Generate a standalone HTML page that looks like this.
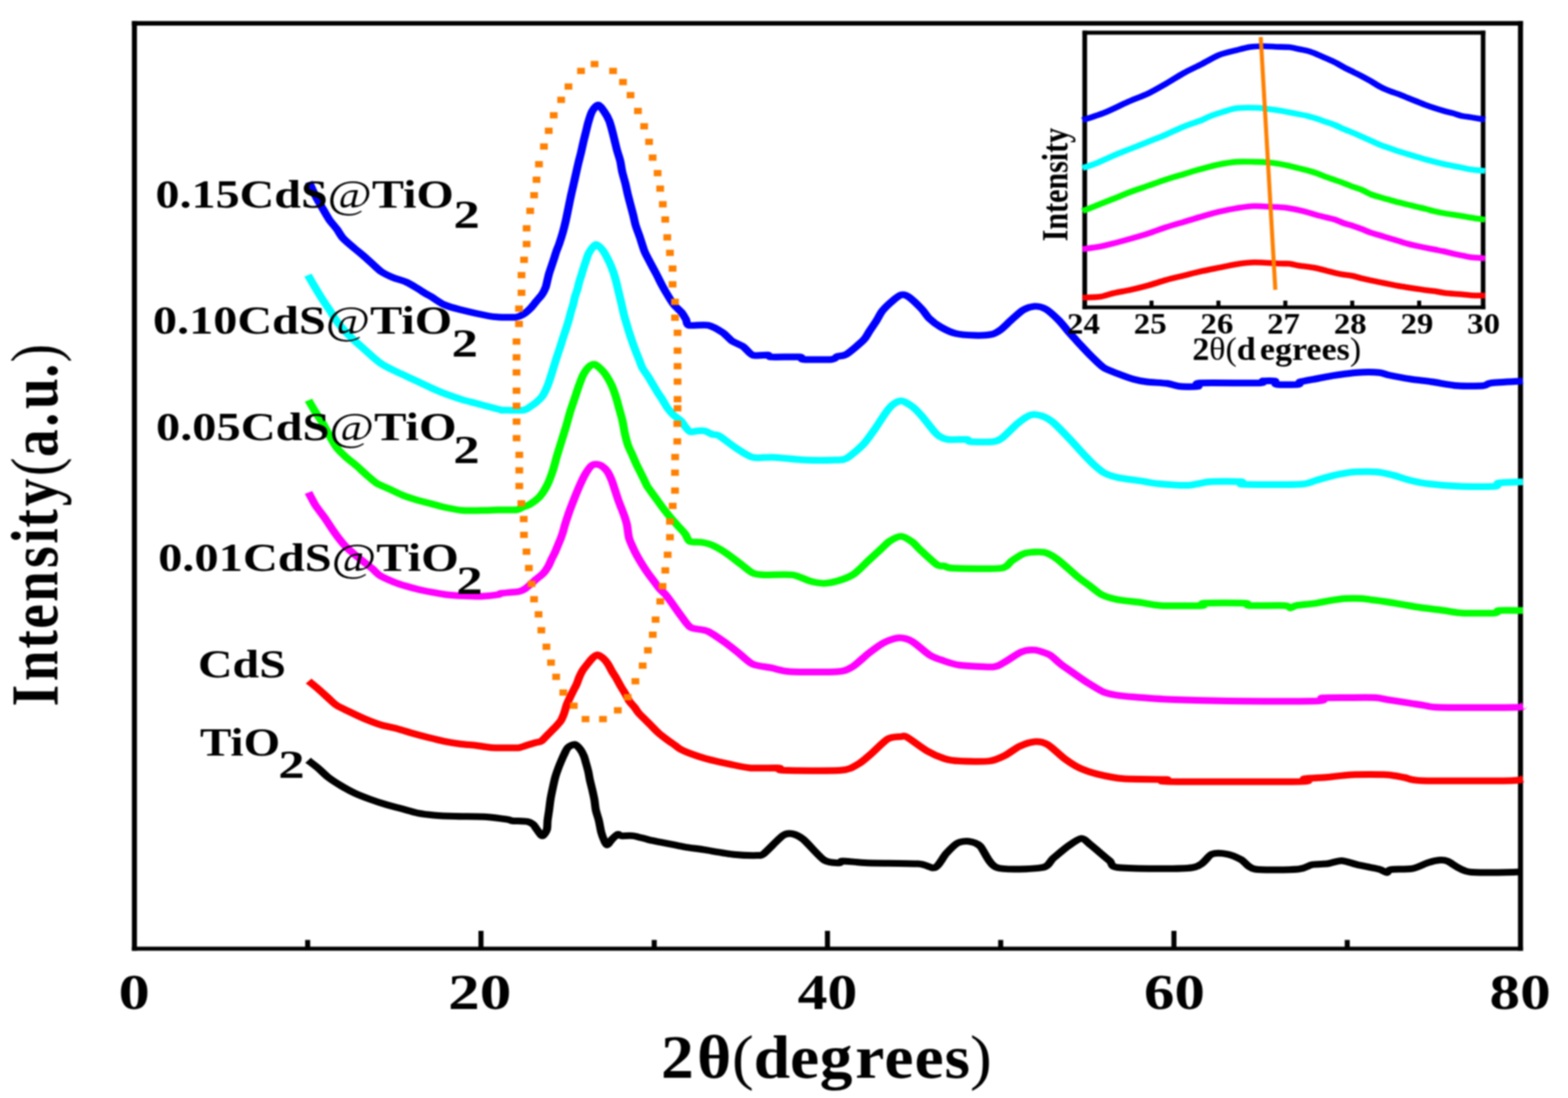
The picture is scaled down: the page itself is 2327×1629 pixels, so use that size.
<!DOCTYPE html>
<html><head><meta charset="utf-8"><title>XRD patterns</title>
<style>html,body{margin:0;padding:0;background:#fff;width:2327px;height:1629px;overflow:hidden}</style>
</head><body>
<svg width="2327" height="1629" viewBox="0 0 2327 1629" style="display:block;filter:blur(0.9px)">
<rect width="2327" height="1629" fill="#fff"/>
<g font-family='"Liberation Serif", "Times New Roman", serif' fill="#000">
<line x1="199.5" y1="31.2" x2="199.5" y2="1410.6" stroke="#000" stroke-width="7.5"/>
<line x1="2256.5" y1="31.2" x2="2256.5" y2="1410.6" stroke="#000" stroke-width="7.5"/>
<line x1="195.7" y1="34.6" x2="2260.2" y2="34.6" stroke="#000" stroke-width="6.6"/>
<line x1="195.7" y1="1407.5" x2="2260.2" y2="1407.5" stroke="#000" stroke-width="6.2"/>
<line x1="456.6" y1="1394.5" x2="456.6" y2="1407" stroke="#000" stroke-width="7.5"/>
<line x1="713.8" y1="1381" x2="713.8" y2="1407" stroke="#000" stroke-width="7.5"/>
<line x1="970.9" y1="1394.5" x2="970.9" y2="1407" stroke="#000" stroke-width="7.5"/>
<line x1="1228.0" y1="1381" x2="1228.0" y2="1407" stroke="#000" stroke-width="7.5"/>
<line x1="1485.1" y1="1394.5" x2="1485.1" y2="1407" stroke="#000" stroke-width="7.5"/>
<line x1="1742.2" y1="1381" x2="1742.2" y2="1407" stroke="#000" stroke-width="7.5"/>
<line x1="1999.4" y1="1394.5" x2="1999.4" y2="1407" stroke="#000" stroke-width="7.5"/>
<text x="0" y="0" text-anchor="middle" transform="translate(199.1,1497) scale(1.25,1)" font-size="74" font-weight="bold">0</text>
<text x="0" y="0" text-anchor="middle" transform="translate(711.9,1497) scale(1.268,1)" font-size="74" font-weight="bold">20</text>
<text x="0" y="0" text-anchor="middle" transform="translate(1228.0,1497) scale(1.197,1)" font-size="74" font-weight="bold">40</text>
<text x="0" y="0" text-anchor="middle" transform="translate(1742.9,1497) scale(1.22,1)" font-size="74" font-weight="bold">60</text>
<text x="0" y="0" text-anchor="middle" transform="translate(2255.9,1497) scale(1.226,1)" font-size="74" font-weight="bold">80</text>
<text transform="translate(0,1598.80) scale(1.0800,1)" font-size="90" ><tspan x="908.33" font-weight="bold">2</tspan><tspan x="957.97" font-weight="bold">θ</tspan><tspan x="1005.69" font-weight="normal">(</tspan><tspan x="1035.69" font-weight="bold">d</tspan><tspan x="1085.76" font-weight="bold">e</tspan><tspan x="1126.43" font-weight="bold">g</tspan><tspan x="1175.16" font-weight="bold">r</tspan><tspan x="1215.35" font-weight="bold">e</tspan><tspan x="1256.69" font-weight="bold">e</tspan><tspan x="1297.92" font-weight="bold">s</tspan><tspan x="1332.86" font-weight="normal">)</tspan></text>
<text transform="translate(84.60,0) scale(1.2160,1) rotate(-90)" font-size="82" ><tspan x="-1048.11" font-weight="bold">I</tspan><tspan x="-1010.63" font-weight="bold">n</tspan><tspan x="-962.23" font-weight="bold">t</tspan><tspan x="-932.69" font-weight="bold">e</tspan><tspan x="-893.03" font-weight="bold">n</tspan><tspan x="-842.40" font-weight="bold">s</tspan><tspan x="-806.49" font-weight="bold">i</tspan><tspan x="-782.78" font-weight="bold">t</tspan><tspan x="-750.90" font-weight="bold">y</tspan><tspan x="-706.28" font-weight="normal">(</tspan><tspan x="-677.95" font-weight="bold">a</tspan><tspan x="-632.90" font-weight="bold">.</tspan><tspan x="-606.77" font-weight="bold">u</tspan><tspan x="-560.15" font-weight="bold">.</tspan><tspan x="-537.87" font-weight="normal">)</tspan></text>
<path transform="scale(1.2,1)" d="M381.00,1128.00 C382.58,1129.47 389.52,1135.65 392.83,1139.00 C396.14,1142.35 402.00,1149.55 405.83,1153.10 C409.67,1156.65 417.23,1162.47 421.58,1165.60 C425.94,1168.73 433.63,1173.88 438.50,1176.60 C443.37,1179.32 452.85,1183.71 458.08,1186.00 C463.32,1188.29 472.52,1191.92 477.75,1193.80 C482.98,1195.68 492.11,1198.42 497.33,1200.10 C502.56,1201.78 511.69,1205.15 516.92,1206.40 C522.14,1207.65 530.40,1208.87 536.50,1209.50 C542.60,1210.13 553.96,1210.78 562.67,1211.10 C571.38,1211.42 593.12,1211.27 601.83,1211.90 C610.54,1212.53 623.80,1215.03 628.00,1215.80 C632.20,1216.57 630.13,1217.30 633.33,1217.70 C636.53,1218.10 648.51,1218.05 652.00,1218.80 C655.49,1219.55 657.88,1221.66 659.50,1223.30 C661.12,1224.94 662.68,1228.86 664.17,1231.10 C665.66,1233.34 669.06,1240.10 670.67,1240.10 C672.28,1240.10 675.38,1234.09 676.25,1231.10 C677.12,1228.11 676.79,1221.58 677.17,1217.70 C677.54,1213.82 678.58,1206.33 679.08,1202.00 C679.58,1197.67 680.29,1189.68 680.92,1185.20 C681.54,1180.72 683.01,1172.59 683.75,1168.40 C684.49,1164.21 685.63,1157.53 686.50,1153.80 C687.37,1150.07 689.25,1143.68 690.25,1140.40 C691.25,1137.12 693.00,1132.04 694.00,1129.20 C695.00,1126.36 696.63,1121.79 697.75,1119.10 C698.87,1116.41 700.67,1110.95 702.42,1109.00 C704.16,1107.05 708.84,1104.19 710.83,1104.50 C712.82,1104.81 715.84,1109.05 717.33,1111.30 C718.82,1113.55 721.00,1118.56 722.00,1121.40 C723.00,1124.24 724.09,1129.47 724.83,1132.60 C725.58,1135.73 726.96,1141.62 727.58,1144.90 C728.21,1148.18 728.88,1153.77 729.50,1157.20 C730.12,1160.63 731.51,1166.72 732.25,1170.60 C732.99,1174.48 734.46,1182.11 735.08,1186.30 C735.71,1190.49 736.17,1197.81 736.92,1202.00 C737.66,1206.19 739.79,1213.37 740.67,1217.70 C741.54,1222.03 742.63,1230.62 743.50,1234.50 C744.37,1238.38 746.18,1244.27 747.17,1246.80 C748.16,1249.33 749.67,1253.65 750.92,1253.50 C752.16,1253.35 754.76,1247.79 756.50,1245.70 C758.24,1243.61 762.38,1238.55 764.00,1237.80 C765.62,1237.05 766.09,1239.79 768.67,1240.10 C771.24,1240.41 778.87,1239.34 783.33,1240.10 C787.80,1240.86 796.76,1244.33 802.17,1245.80 C807.58,1247.27 818.11,1249.70 823.92,1251.10 C829.73,1252.50 839.54,1255.02 845.75,1256.30 C851.96,1257.58 862.24,1259.18 870.50,1260.70 C878.76,1262.22 898.69,1266.58 907.67,1267.70 C916.64,1268.82 932.88,1269.29 937.83,1269.10 C942.79,1268.91 940.80,1270.21 944.83,1266.30 C948.87,1262.39 963.44,1243.71 968.08,1239.80 C972.73,1235.89 976.27,1236.25 979.67,1237.00 C983.07,1237.75 988.32,1240.20 993.58,1245.40 C998.85,1250.60 1013.28,1271.36 1019.17,1276.00 C1025.06,1280.64 1034.65,1280.01 1037.75,1280.20 C1040.85,1280.39 1037.77,1277.40 1042.42,1277.40 C1047.06,1277.40 1060.19,1279.64 1072.58,1280.20 C1084.97,1280.76 1124.18,1280.67 1135.33,1281.60 C1146.49,1282.53 1151.61,1289.24 1156.25,1287.20 C1160.89,1285.16 1166.46,1271.14 1170.17,1266.30 C1173.88,1261.46 1180.37,1253.31 1184.08,1250.90 C1187.79,1248.49 1194.28,1247.64 1198.00,1248.20 C1201.72,1248.76 1207.36,1249.90 1212.00,1255.10 C1216.64,1260.30 1222.62,1282.92 1232.83,1287.20 C1243.04,1291.48 1279.28,1289.07 1288.58,1287.20 C1297.88,1285.33 1298.24,1277.48 1302.58,1273.20 C1306.93,1268.92 1316.52,1258.99 1321.17,1255.10 C1325.81,1251.21 1333.71,1244.19 1337.42,1244.00 C1341.13,1243.81 1344.36,1249.30 1349.00,1253.70 C1353.64,1258.10 1367.53,1272.53 1372.25,1277.00 C1376.97,1281.47 1370.81,1285.84 1384.42,1287.20 C1398.03,1288.56 1459.10,1289.85 1474.33,1287.20 C1489.57,1284.55 1492.82,1269.95 1498.67,1267.30 C1504.51,1264.65 1513.30,1266.21 1518.17,1267.30 C1523.03,1268.39 1530.63,1272.54 1535.17,1275.50 C1539.70,1278.46 1542.77,1287.63 1552.17,1289.50 C1561.57,1291.37 1596.27,1290.39 1605.67,1289.50 C1615.07,1288.61 1617.80,1283.89 1622.67,1282.80 C1627.53,1281.71 1637.30,1282.07 1642.17,1281.30 C1647.03,1280.53 1654.31,1276.80 1659.17,1277.00 C1664.02,1277.20 1672.42,1281.13 1678.58,1282.80 C1684.75,1284.47 1700.55,1287.94 1705.42,1289.50 C1710.28,1291.06 1713.14,1294.42 1715.08,1294.50 C1717.03,1294.58 1715.78,1290.89 1720.00,1290.10 C1724.22,1289.31 1740.59,1289.96 1746.75,1288.60 C1752.91,1287.24 1761.63,1281.57 1766.17,1279.90 C1770.70,1278.23 1777.51,1276.38 1780.75,1276.10 C1783.99,1275.82 1785.63,1275.47 1790.50,1277.80 C1795.37,1280.13 1804.87,1291.49 1817.25,1293.60 C1829.63,1295.71 1874.52,1293.60 1883.33,1293.60" fill="none" stroke="#000" stroke-width="10" stroke-linejoin="round" stroke-linecap="butt"/>
<path transform="scale(1.2,1)" d="M381.67,1010.40 C383.16,1011.87 389.61,1018.05 392.83,1021.40 C396.06,1024.75 402.70,1032.17 405.83,1035.50 C408.97,1038.83 412.84,1043.68 416.33,1046.40 C419.82,1049.12 427.30,1053.18 432.00,1055.90 C436.70,1058.62 446.36,1064.19 451.58,1066.80 C456.81,1069.41 465.94,1073.62 471.17,1075.50 C476.39,1077.38 485.52,1079.23 490.75,1080.90 C495.98,1082.57 505.18,1086.21 510.42,1088.00 C515.65,1089.79 524.78,1092.73 530.00,1094.30 C535.22,1095.87 544.36,1098.55 549.58,1099.80 C554.81,1101.05 563.94,1102.87 569.17,1103.70 C574.39,1104.53 583.52,1105.27 588.75,1106.00 C593.98,1106.73 602.47,1108.75 608.42,1109.20 C614.36,1109.65 628.90,1109.39 633.33,1109.40 C637.77,1109.41 639.18,1109.82 641.67,1109.30 C644.16,1108.78 649.23,1106.50 652.00,1105.50 C654.77,1104.50 660.06,1102.63 662.42,1101.80 C664.77,1100.97 667.59,1100.97 669.67,1099.30 C671.74,1097.63 675.79,1091.95 678.00,1089.30 C680.21,1086.65 684.18,1082.05 686.25,1079.40 C688.32,1076.75 691.98,1072.23 693.50,1069.40 C695.02,1066.57 696.69,1061.35 697.67,1058.20 C698.64,1055.05 699.87,1048.95 700.83,1045.80 C701.80,1042.65 703.82,1037.43 704.92,1034.60 C706.02,1031.77 707.97,1027.25 709.08,1024.60 C710.19,1021.95 712.28,1017.35 713.25,1014.70 C714.22,1012.05 715.37,1007.37 716.33,1004.70 C717.30,1002.03 719.11,997.35 720.50,994.70 C721.89,992.05 725.09,987.28 726.75,984.80 C728.41,982.32 731.33,977.87 732.92,976.10 C734.51,974.33 737.00,971.50 738.67,971.50 C740.33,971.50 743.68,974.33 745.42,976.10 C747.15,977.87 750.14,982.15 751.67,984.80 C753.19,987.45 755.46,993.19 756.83,996.00 C758.21,998.81 760.62,1003.09 762.00,1005.90 C763.38,1008.71 765.64,1013.94 767.17,1017.10 C768.69,1020.26 771.89,1026.44 773.42,1029.60 C774.94,1032.76 777.06,1038.15 778.58,1040.80 C780.11,1043.45 783.31,1047.18 784.83,1049.50 C786.36,1051.82 788.34,1055.88 790.00,1058.20 C791.66,1060.52 795.17,1064.41 797.25,1066.90 C799.33,1069.39 803.37,1074.23 805.58,1076.90 C807.79,1079.57 811.34,1084.25 813.83,1086.90 C816.32,1089.55 821.48,1094.32 824.25,1096.80 C827.02,1099.28 832.26,1103.51 834.58,1105.50 C836.91,1107.49 839.36,1110.15 841.67,1111.70 C843.98,1113.25 847.76,1115.26 851.92,1117.10 C856.07,1118.94 866.02,1123.26 872.83,1125.50 C879.64,1127.74 895.57,1132.05 903.00,1133.90 C910.43,1135.75 920.53,1138.67 928.58,1139.40 C936.64,1140.13 958.15,1138.95 963.42,1139.40 C968.68,1139.85 957.86,1142.35 968.08,1142.80 C978.31,1143.25 1027.69,1143.99 1040.08,1142.80 C1052.47,1141.61 1056.04,1137.14 1061.00,1133.90 C1065.96,1130.66 1072.29,1123.53 1077.25,1118.50 C1082.21,1113.47 1093.21,1099.61 1098.17,1096.20 C1103.12,1092.79 1111.33,1093.27 1114.42,1092.90 C1117.51,1092.53 1117.00,1090.53 1121.33,1093.40 C1125.67,1096.27 1140.72,1110.12 1146.92,1114.40 C1153.12,1118.68 1162.57,1123.54 1167.83,1125.50 C1173.10,1127.46 1178.98,1128.62 1186.42,1129.10 C1193.85,1129.58 1216.15,1130.14 1223.58,1129.10 C1231.02,1128.06 1237.21,1124.19 1242.17,1121.30 C1247.12,1118.41 1255.79,1110.19 1260.75,1107.40 C1265.71,1104.61 1274.69,1100.77 1279.33,1100.40 C1283.98,1100.03 1290.63,1101.25 1295.58,1104.60 C1300.54,1107.95 1311.23,1120.86 1316.50,1125.50 C1321.77,1130.14 1329.59,1136.32 1335.08,1139.40 C1340.57,1142.48 1350.44,1146.48 1357.67,1148.60 C1364.89,1150.72 1377.91,1154.25 1389.25,1155.30 C1400.59,1156.35 1435.29,1155.95 1442.75,1156.50 C1450.21,1157.05 1423.12,1159.01 1445.17,1159.40 C1467.21,1159.79 1585.71,1159.95 1608.08,1159.40 C1630.46,1158.85 1608.46,1156.15 1613.00,1155.30 C1617.54,1154.45 1634.39,1153.79 1642.17,1153.00 C1649.94,1152.21 1661.61,1149.88 1671.33,1149.40 C1681.06,1148.92 1706.33,1148.85 1715.08,1149.40 C1723.84,1149.95 1731.16,1152.33 1737.00,1153.50 C1742.84,1154.67 1741.41,1157.57 1758.92,1158.20 C1776.43,1158.83 1851.74,1158.59 1868.33,1158.20 C1884.92,1157.81 1881.33,1155.69 1883.33,1155.30" fill="none" stroke="#f00" stroke-width="10" stroke-linejoin="round" stroke-linecap="butt"/>
<path transform="scale(1.2,1)" d="M381.50,730.60 C382.57,732.97 387.84,745.01 389.50,748.40 C391.16,751.79 392.17,753.12 393.92,756.00 C395.66,758.88 400.41,766.27 402.58,770.00 C404.76,773.73 408.07,780.20 410.25,784.00 C412.43,787.80 416.59,794.90 418.92,798.50 C421.24,802.10 425.20,807.95 427.67,811.00 C430.13,814.05 434.52,818.44 437.42,821.40 C440.32,824.36 446.36,830.24 449.42,833.20 C452.47,836.16 457.58,840.81 460.33,843.60 C463.09,846.39 466.61,851.49 470.08,854.10 C473.56,856.71 482.06,861.11 486.42,863.20 C490.77,865.29 498.39,868.23 502.75,869.80 C507.11,871.37 514.73,873.79 519.08,875.00 C523.44,876.21 531.06,877.94 535.42,878.90 C539.77,879.86 546.66,881.51 551.75,882.20 C556.84,882.89 567.77,883.75 573.58,884.10 C579.39,884.45 589.59,885.05 595.33,884.80 C601.08,884.55 613.42,882.81 616.67,882.20 C619.91,881.59 616.37,880.81 619.67,880.20 C622.97,879.59 637.55,878.41 641.42,877.60 C645.28,876.79 646.73,875.50 648.67,874.10 C650.60,872.70 653.98,869.07 655.92,867.10 C657.85,865.13 661.03,861.50 663.17,859.30 C665.30,857.10 669.98,853.04 671.92,850.60 C673.85,848.16 676.31,843.79 677.67,841.00 C679.02,838.21 680.92,832.61 682.08,829.70 C683.25,826.79 685.36,821.99 686.42,819.20 C687.47,816.41 689.03,811.59 690.00,808.80 C690.97,806.01 692.79,801.09 693.67,798.30 C694.54,795.51 695.93,790.49 696.58,787.90 C697.24,785.31 697.61,782.69 698.58,778.90 C699.56,775.11 702.31,764.90 703.92,759.50 C705.53,754.10 708.87,743.80 710.67,738.40 C712.47,733.00 715.62,723.75 717.42,719.00 C719.22,714.25 722.37,706.47 724.17,702.80 C725.97,699.13 729.21,693.37 730.92,691.50 C732.63,689.63 735.20,688.80 737.00,688.80 C738.80,688.80 742.53,690.06 744.42,691.50 C746.31,692.94 749.56,696.79 751.17,699.60 C752.78,702.41 755.24,708.93 756.50,712.60 C757.76,716.27 759.51,723.22 760.58,727.10 C761.66,730.98 763.51,738.03 764.58,741.70 C765.66,745.37 767.58,751.15 768.67,754.60 C769.76,758.05 771.85,764.36 772.75,767.60 C773.65,770.84 774.74,774.89 775.42,778.90 C776.09,782.91 776.90,793.37 777.83,797.70 C778.77,802.03 781.05,807.75 782.42,811.40 C783.78,815.05 786.42,821.45 788.08,825.10 C789.75,828.75 793.09,835.33 794.92,838.80 C796.74,842.27 799.93,848.01 801.75,851.10 C803.57,854.19 806.76,859.08 808.58,862.00 C810.41,864.92 813.44,870.25 815.42,873.00 C817.39,875.75 821.44,879.87 823.42,882.60 C825.39,885.33 828.59,890.78 830.25,893.50 C831.91,896.22 834.19,900.24 835.83,903.00 C837.48,905.76 840.13,910.48 842.58,914.20 C845.04,917.92 849.91,927.93 854.25,930.90 C858.59,933.87 869.29,933.34 875.17,936.50 C881.04,939.66 893.07,950.13 898.33,954.60 C903.60,959.07 910.32,965.91 914.67,970.00 C919.01,974.09 925.65,982.51 930.92,985.30 C936.18,988.09 947.98,989.42 954.17,990.90 C960.36,992.38 966.50,995.67 977.33,996.40 C988.17,997.13 1025.19,997.32 1035.42,996.40 C1045.64,995.48 1048.73,993.21 1054.00,989.50 C1059.27,985.79 1069.65,973.44 1074.92,968.60 C1080.18,963.76 1088.54,956.17 1093.50,953.20 C1098.46,950.23 1107.44,946.49 1112.08,946.30 C1116.73,946.11 1123.38,948.45 1128.33,951.80 C1133.29,955.15 1144.29,967.68 1149.25,971.40 C1154.21,975.12 1160.54,977.66 1165.50,979.70 C1170.46,981.74 1178.05,985.39 1186.42,986.70 C1194.78,988.01 1220.82,990.06 1228.25,989.50 C1235.68,988.94 1237.52,985.47 1242.17,982.50 C1246.81,979.53 1258.13,969.61 1263.08,967.20 C1268.04,964.79 1274.69,963.84 1279.33,964.40 C1283.98,964.96 1293.58,968.61 1297.92,971.40 C1302.25,974.19 1307.11,981.03 1311.83,985.30 C1316.56,989.57 1328.52,999.43 1333.33,1003.40 C1338.14,1007.37 1343.71,1011.98 1347.92,1015.10 C1352.13,1018.22 1360.71,1024.67 1364.92,1026.80 C1369.13,1028.93 1374.63,1030.14 1379.50,1031.10 C1384.37,1032.06 1392.34,1033.11 1401.42,1034.00 C1410.49,1034.89 1432.02,1037.01 1447.58,1037.80 C1463.15,1038.59 1493.84,1039.62 1518.17,1039.90 C1542.49,1040.18 1614.44,1040.49 1630.00,1039.90 C1645.56,1039.31 1629.97,1036.15 1634.83,1035.50 C1639.70,1034.85 1657.74,1035.07 1666.50,1035.00 C1675.26,1034.93 1693.70,1034.55 1700.50,1035.00 C1707.30,1035.45 1711.99,1037.36 1717.50,1038.40 C1723.01,1039.44 1735.99,1041.71 1741.83,1042.80 C1747.68,1043.89 1756.14,1045.71 1761.33,1046.60 C1766.52,1047.49 1765.84,1049.11 1780.75,1049.50 C1795.66,1049.89 1859.49,1049.81 1873.17,1049.50 C1886.84,1049.19 1881.98,1047.51 1883.33,1047.20" fill="none" stroke="#f0f" stroke-width="10" stroke-linejoin="round" stroke-linecap="butt"/>
<path transform="scale(1.2,1)" d="M381.50,593.70 C382.57,595.89 387.22,605.71 389.50,610.10 C391.78,614.49 396.15,621.67 398.58,626.60 C401.02,631.53 405.32,641.99 407.75,647.10 C410.18,652.21 414.10,660.70 416.83,664.90 C419.57,669.10 425.05,675.13 428.25,678.60 C431.45,682.07 437.48,687.43 440.83,690.90 C444.19,694.37 450.07,701.13 453.42,704.60 C456.76,708.07 462.27,714.17 465.92,716.90 C469.56,719.63 476.48,722.73 480.75,725.10 C485.02,727.47 493.35,732.50 497.92,734.70 C502.48,736.90 510.44,739.95 515.00,741.60 C519.56,743.25 527.52,745.65 532.08,747.10 C536.65,748.55 543.92,751.14 549.25,752.50 C554.58,753.86 565.99,756.66 572.08,757.30 C578.17,757.94 588.97,757.39 594.92,757.30 C600.86,757.21 610.76,756.73 616.67,756.60 C622.58,756.47 635.17,756.91 639.25,756.30 C643.33,755.69 645.09,753.08 647.25,752.00 C649.41,750.92 652.72,750.23 655.42,748.20 C658.12,746.17 664.62,740.69 667.50,736.80 C670.38,732.91 674.83,724.17 677.00,719.00 C679.17,713.83 682.14,703.83 683.75,698.00 C685.36,692.17 687.65,681.13 689.08,675.30 C690.52,669.47 693.06,659.90 694.50,654.30 C695.94,648.70 698.48,639.13 699.92,633.30 C701.35,627.47 703.82,616.21 705.25,610.60 C706.68,604.99 709.22,596.37 710.67,591.20 C712.11,586.03 714.64,576.55 716.08,571.80 C717.53,567.05 719.88,559.27 721.50,555.60 C723.12,551.93 726.46,546.31 728.25,544.30 C730.04,542.29 732.94,540.07 734.92,540.50 C736.89,540.93 741.11,545.27 743.08,547.50 C745.06,549.73 747.96,553.96 749.75,557.20 C751.54,560.44 754.88,567.48 756.50,571.80 C758.12,576.12 760.65,584.85 761.92,589.60 C763.18,594.35 764.92,602.65 766.00,607.40 C767.08,612.15 769.10,620.45 770.00,625.20 C770.90,629.95 771.85,638.25 772.75,643.00 C773.65,647.75 775.49,656.49 776.75,660.80 C778.01,665.11 780.73,671.42 782.17,675.30 C783.60,679.18 785.89,685.79 787.50,689.90 C789.11,694.01 792.57,702.01 794.25,706.10 C795.93,710.19 799.08,718.24 800.08,720.60 C801.08,722.96 800.31,721.36 801.75,723.80 C803.19,726.24 808.48,734.89 810.92,738.90 C813.35,742.91 817.57,750.07 820.00,753.90 C822.43,757.73 826.73,764.13 829.17,767.60 C831.60,771.07 835.82,776.62 838.25,779.90 C840.68,783.18 845.44,789.09 847.42,792.20 C849.39,795.31 850.35,801.55 853.08,803.20 C855.82,804.85 864.26,803.87 867.92,804.60 C871.57,805.33 876.44,806.54 880.50,808.70 C884.56,810.86 893.48,816.95 898.33,820.80 C903.19,824.65 912.57,833.69 916.92,837.60 C921.26,841.51 927.19,848.06 930.92,850.10 C934.64,852.14 938.33,852.53 944.83,852.90 C951.33,853.27 971.92,851.61 979.67,852.90 C987.41,854.19 997.65,860.93 1002.92,862.60 C1008.18,864.27 1014.52,865.57 1019.17,865.40 C1023.81,865.23 1032.79,863.15 1037.75,861.30 C1042.71,859.45 1051.69,855.22 1056.33,851.50 C1060.98,847.78 1068.25,838.23 1072.58,833.40 C1076.92,828.57 1085.11,819.39 1088.83,815.30 C1092.56,811.21 1097.09,805.31 1100.50,802.70 C1103.91,800.09 1110.71,795.51 1114.42,795.70 C1118.13,795.89 1125.23,801.49 1128.33,804.10 C1131.43,806.71 1133.64,810.83 1137.67,815.30 C1141.69,819.77 1154.48,834.33 1158.50,837.60 C1162.52,840.87 1165.04,839.07 1167.83,839.80 C1170.62,840.53 1170.13,842.66 1179.42,843.10 C1188.71,843.54 1227.90,844.58 1237.50,843.10 C1247.10,841.62 1247.38,834.97 1251.42,832.00 C1255.45,829.03 1262.48,822.48 1267.75,820.80 C1273.02,819.12 1285.66,818.28 1290.92,819.40 C1296.17,820.52 1301.59,824.36 1307.17,829.20 C1312.74,834.04 1327.32,850.37 1332.75,855.70 C1338.18,861.03 1343.95,865.65 1347.92,869.20 C1351.88,872.75 1357.96,879.58 1362.50,882.30 C1367.04,885.02 1375.51,888.04 1382.00,889.60 C1388.49,891.16 1404.03,892.83 1411.17,894.00 C1418.30,895.17 1425.46,897.81 1435.50,898.40 C1445.54,898.99 1479.37,898.87 1486.50,898.40 C1493.63,897.93 1481.87,895.37 1489.00,894.90 C1496.13,894.43 1532.54,894.43 1540.00,894.90 C1547.46,895.37 1538.43,897.93 1544.92,898.40 C1551.41,898.87 1581.87,897.93 1588.67,898.40 C1595.47,898.87 1593.97,901.90 1595.92,901.90 C1597.86,901.90 1599.35,899.27 1603.25,898.40 C1607.15,897.53 1619.66,896.37 1625.17,895.40 C1630.68,894.43 1639.39,892.07 1644.58,891.10 C1649.77,890.13 1658.89,888.50 1664.08,888.10 C1669.27,887.70 1677.02,887.51 1683.50,888.10 C1689.98,888.69 1705.86,891.33 1712.67,892.50 C1719.48,893.67 1728.75,895.73 1734.58,896.90 C1740.42,898.07 1749.61,900.13 1756.42,901.30 C1763.23,902.47 1778.86,904.62 1785.67,905.70 C1792.48,906.78 1799.08,908.91 1807.50,909.40 C1815.92,909.89 1842.67,909.89 1848.83,909.40 C1855.00,908.91 1849.15,906.19 1853.75,905.70 C1858.35,905.21 1879.39,905.70 1883.33,905.70" fill="none" stroke="#0f0" stroke-width="10" stroke-linejoin="round" stroke-linecap="butt"/>
<path transform="scale(1.2,1)" d="M380.92,408.20 C382.06,410.57 387.14,421.25 389.50,426.00 C391.86,430.75 396.15,439.24 398.58,443.80 C401.02,448.36 405.46,456.00 407.75,460.20 C410.04,464.40 413.32,471.27 415.75,475.30 C418.18,479.33 423.11,486.56 426.00,490.40 C428.89,494.24 434.37,500.63 437.42,504.10 C440.46,507.57 445.79,513.12 448.83,516.40 C451.88,519.68 457.21,525.59 460.25,528.70 C463.29,531.81 468.17,536.95 471.67,539.70 C475.17,542.45 482.24,546.75 486.50,549.30 C490.76,551.85 499.02,556.25 503.58,558.80 C508.15,561.35 516.18,565.84 520.75,568.40 C525.32,570.96 533.28,575.63 537.83,578.00 C542.39,580.37 550.35,584.19 554.92,586.20 C559.48,588.21 567.52,591.46 572.08,593.10 C576.65,594.74 584.60,597.05 589.17,598.50 C593.73,599.95 602.08,602.67 606.33,604.00 C610.59,605.33 619.12,607.90 621.08,608.50 C623.05,609.10 617.59,608.50 621.08,608.50 C624.57,608.50 642.61,609.21 647.25,608.50 C651.89,607.79 653.79,604.72 655.92,603.20 C658.04,601.68 661.23,599.07 663.17,597.10 C665.10,595.13 668.86,590.83 670.42,588.40 C671.97,585.97 673.77,581.57 674.83,578.90 C675.90,576.23 677.55,571.20 678.42,568.40 C679.28,565.60 680.56,560.81 681.33,557.90 C682.11,554.99 683.47,549.61 684.25,546.60 C685.03,543.59 686.40,538.21 687.17,535.30 C687.93,532.39 689.23,527.59 690.00,524.80 C690.77,522.01 692.14,517.29 692.92,514.40 C693.69,511.51 695.06,506.01 695.83,503.10 C696.61,500.19 698.07,495.07 698.75,492.60 C699.43,490.13 700.24,487.19 700.92,484.60 C701.59,482.01 703.16,476.11 703.83,473.20 C704.51,470.29 705.32,465.69 706.00,462.80 C706.68,459.91 708.24,454.53 708.92,451.50 C709.59,448.47 710.41,443.01 711.08,440.10 C711.76,437.19 713.32,432.49 714.00,429.70 C714.68,426.91 715.49,422.11 716.17,419.20 C716.84,416.29 718.31,410.91 719.08,407.90 C719.86,404.89 721.22,399.51 722.00,396.60 C722.78,393.69 724.05,389.01 724.92,386.10 C725.78,383.19 726.94,377.91 728.50,374.80 C730.06,371.69 734.42,363.40 736.58,362.80 C738.75,362.20 742.59,367.10 744.75,370.30 C746.91,373.50 750.93,382.41 752.75,386.80 C754.57,391.19 757.21,399.19 758.42,403.20 C759.63,407.21 761.01,413.25 761.83,416.90 C762.66,420.55 763.67,426.04 764.58,430.60 C765.49,435.16 767.67,445.98 768.67,451.10 C769.67,456.22 771.26,465.15 772.08,469.00 C772.91,472.85 774.06,476.88 774.83,480.00 C775.61,483.12 776.95,488.75 777.92,492.40 C778.88,496.05 780.97,503.57 782.08,507.40 C783.19,511.23 785.14,517.62 786.25,521.10 C787.36,524.58 789.32,530.18 790.42,533.50 C791.52,536.82 793.12,542.84 794.50,546.00 C795.88,549.16 799.08,554.05 800.75,557.20 C802.42,560.35 805.33,566.28 807.00,569.60 C808.67,572.92 811.59,578.94 813.25,582.10 C814.91,585.26 817.76,590.15 819.42,593.30 C821.07,596.45 823.87,602.71 825.67,605.70 C827.47,608.69 830.71,613.21 832.92,615.70 C835.13,618.19 840.32,622.08 842.25,624.40 C844.18,626.72 845.89,630.94 847.42,633.10 C848.94,635.26 851.59,639.77 853.67,640.60 C855.74,641.43 860.64,639.47 863.00,639.30 C865.36,639.13 868.98,638.63 871.33,639.30 C873.69,639.97 878.30,643.35 880.67,644.30 C883.03,645.25 885.17,643.71 889.08,646.40 C892.99,649.09 904.42,660.22 910.00,664.50 C915.58,668.78 924.73,676.63 930.92,678.50 C937.11,680.37 947.75,677.95 956.42,678.50 C965.08,679.05 985.69,682.05 995.92,682.60 C1006.14,683.15 1026.27,682.96 1033.08,682.60 C1039.89,682.24 1042.36,683.05 1047.00,679.90 C1051.64,676.75 1063.26,664.76 1067.92,659.00 C1072.57,653.24 1078.51,642.47 1081.92,636.70 C1085.33,630.93 1090.72,620.35 1093.50,615.70 C1096.28,611.05 1099.96,604.59 1102.75,601.80 C1105.54,599.01 1111.01,594.61 1114.42,594.80 C1117.83,594.99 1124.93,600.23 1128.33,603.20 C1131.73,606.17 1136.51,612.46 1139.92,617.10 C1143.33,621.74 1151.13,634.09 1153.92,638.00 C1156.71,641.91 1158.36,644.53 1160.83,646.40 C1163.31,648.27 1167.86,651.25 1172.50,652.00 C1177.14,652.75 1191.96,651.56 1195.67,652.00 C1199.38,652.44 1195.99,654.86 1200.33,655.30 C1204.68,655.74 1222.98,656.11 1228.25,655.30 C1233.52,654.49 1235.81,652.80 1239.83,649.20 C1243.86,645.60 1253.77,632.77 1258.42,628.30 C1263.06,623.83 1270.64,617.19 1274.67,615.70 C1278.69,614.21 1284.86,615.61 1288.58,617.10 C1292.31,618.59 1298.24,622.62 1302.58,626.90 C1306.93,631.18 1315.77,642.43 1321.17,649.20 C1326.57,655.97 1338.87,672.34 1343.08,677.70 C1347.29,683.06 1349.84,686.28 1352.75,689.40 C1355.66,692.52 1361.02,698.57 1364.92,701.10 C1368.82,703.63 1375.83,706.73 1382.00,708.40 C1388.17,710.07 1404.37,712.36 1411.17,713.60 C1417.97,714.84 1425.22,716.85 1433.00,717.70 C1440.78,718.55 1461.07,720.39 1469.50,720.00 C1477.93,719.61 1487.49,715.49 1496.25,714.80 C1505.01,714.11 1529.66,714.29 1535.17,714.80 C1540.68,715.31 1527.86,718.09 1537.58,718.60 C1547.31,719.11 1596.08,719.39 1608.08,718.60 C1620.08,717.81 1622.07,714.46 1627.58,712.70 C1633.09,710.94 1643.26,707.07 1649.42,705.40 C1655.57,703.73 1666.62,700.89 1673.75,700.20 C1680.88,699.51 1696.43,699.57 1702.92,700.20 C1709.41,700.83 1716.91,703.23 1722.42,704.90 C1727.93,706.57 1738.42,710.99 1744.25,712.70 C1750.08,714.41 1758.06,716.53 1766.17,717.70 C1774.28,718.87 1794.06,720.99 1805.08,721.50 C1816.11,722.01 1842.34,722.17 1848.83,721.50 C1855.32,720.83 1849.15,717.39 1853.75,716.50 C1858.35,715.61 1879.39,715.03 1883.33,714.80" fill="none" stroke="#0ff" stroke-width="10" stroke-linejoin="round" stroke-linecap="butt"/>
<path transform="scale(1.2,1)" d="M382.17,270.00 C383.28,272.87 388.11,285.97 390.50,291.50 C392.89,297.03 397.85,306.91 400.08,311.50 C402.32,316.09 405.03,322.07 407.25,325.90 C409.47,329.73 414.53,336.59 416.75,340.20 C418.97,343.81 421.37,349.57 423.92,353.00 C426.46,356.43 432.33,362.27 435.83,365.90 C439.33,369.53 446.67,376.57 450.17,380.20 C453.67,383.83 459.22,390.05 462.08,393.10 C464.95,396.15 468.49,400.62 471.67,403.10 C474.84,405.58 481.81,409.65 485.92,411.70 C490.03,413.75 498.52,416.39 502.50,418.50 C506.48,420.61 512.56,425.22 515.75,427.50 C518.94,429.78 524.03,433.88 526.42,435.60 C528.81,437.32 530.62,438.21 533.67,440.40 C536.71,442.59 544.48,449.45 549.25,452.00 C554.02,454.55 561.96,457.23 569.42,459.50 C576.87,461.77 598.87,467.55 605.17,469.00 C611.47,470.45 612.32,470.19 616.67,470.40 C621.01,470.61 633.67,471.15 637.75,470.60 C641.83,470.05 644.83,468.03 647.25,466.30 C649.67,464.57 653.79,460.16 655.92,457.60 C658.04,455.04 661.23,449.89 663.17,447.10 C665.10,444.31 668.86,439.49 670.42,436.70 C671.97,433.91 673.96,429.00 674.83,426.20 C675.71,423.40 676.42,418.49 677.00,415.70 C677.58,412.91 678.49,408.09 679.17,405.30 C679.84,402.51 681.31,397.59 682.08,394.80 C682.86,392.01 684.21,387.29 685.00,384.40 C685.79,381.51 687.11,376.15 688.00,373.10 C688.89,370.05 690.59,365.29 691.67,361.50 C692.74,357.71 694.99,349.34 696.08,344.70 C697.17,340.06 698.92,331.49 699.83,326.70 C700.74,321.91 702.09,313.57 702.92,308.80 C703.74,304.03 705.17,295.49 706.00,290.90 C706.83,286.31 708.33,278.79 709.17,274.40 C710.00,270.01 711.43,262.37 712.25,258.00 C713.07,253.63 714.50,245.79 715.33,241.60 C716.17,237.41 717.67,230.79 718.50,226.60 C719.33,222.41 720.76,214.37 721.58,210.20 C722.41,206.03 723.83,199.29 724.67,195.30 C725.50,191.31 726.83,184.29 727.83,180.30 C728.83,176.31 730.59,168.68 732.17,165.40 C733.74,162.12 737.68,155.70 739.67,155.70 C741.66,155.70 745.26,162.32 747.08,165.40 C748.91,168.48 752.00,175.01 753.33,178.80 C754.67,182.59 756.17,189.81 757.08,193.80 C757.99,197.79 759.34,204.71 760.17,208.70 C760.99,212.69 762.34,219.71 763.25,223.70 C764.16,227.69 766.17,234.43 767.00,238.60 C767.83,242.77 768.67,250.61 769.50,255.00 C770.33,259.39 772.34,267.11 773.25,271.50 C774.16,275.89 775.50,283.73 776.33,287.90 C777.17,292.07 778.59,298.61 779.50,302.80 C780.41,306.99 782.27,315.03 783.17,319.30 C784.07,323.57 785.14,330.37 786.25,334.80 C787.36,339.23 790.04,347.39 791.50,352.50 C792.96,357.61 795.49,368.17 797.17,373.10 C798.84,378.03 802.11,384.94 804.08,389.50 C806.06,394.06 810.02,402.74 812.00,407.30 C813.98,411.86 816.94,419.33 818.92,423.70 C820.89,428.07 824.87,436.26 826.83,440.10 C828.80,443.94 831.53,449.39 833.67,452.50 C835.80,455.61 840.86,460.48 842.83,463.40 C844.81,466.32 847.28,471.84 848.50,474.40 C849.72,476.96 848.34,481.51 852.00,482.60 C855.66,483.69 870.35,481.16 875.92,482.60 C881.48,484.04 889.83,490.29 893.75,493.40 C897.67,496.51 901.93,503.11 905.33,505.90 C908.73,508.69 915.84,511.51 919.25,514.30 C922.66,517.09 926.88,525.13 930.92,526.80 C934.95,528.47 946.40,526.43 949.50,526.80 C952.60,527.17 948.90,529.23 954.17,529.60 C959.43,529.97 983.74,529.12 989.00,529.60 C994.26,530.08 988.33,532.72 993.58,533.20 C998.84,533.68 1022.84,533.79 1028.42,533.20 C1033.99,532.61 1032.94,529.84 1035.42,528.80 C1037.89,527.76 1042.67,528.64 1047.00,525.40 C1051.33,522.16 1064.19,508.95 1067.92,504.50 C1071.64,500.05 1072.75,495.89 1074.92,492.00 C1077.08,488.11 1082.00,479.39 1084.17,475.30 C1086.33,471.21 1088.69,465.02 1091.17,461.30 C1093.64,457.58 1099.65,450.56 1102.75,447.40 C1105.85,444.24 1111.63,438.53 1114.42,437.60 C1117.21,436.67 1120.26,437.61 1123.67,440.40 C1127.08,443.19 1136.59,454.22 1140.00,458.50 C1143.41,462.78 1146.16,468.97 1149.25,472.50 C1152.34,476.03 1158.83,482.03 1163.17,485.00 C1167.50,487.97 1176.17,493.12 1181.75,494.80 C1187.33,496.48 1199.11,497.41 1205.00,497.60 C1210.89,497.79 1221.58,497.32 1225.92,496.20 C1230.25,495.08 1234.10,492.17 1237.50,489.20 C1240.90,486.23 1247.69,477.81 1251.42,473.90 C1255.14,469.99 1261.69,462.50 1265.42,459.90 C1269.14,457.30 1275.62,454.59 1279.33,454.40 C1283.04,454.21 1289.23,455.71 1293.25,458.50 C1297.27,461.29 1305.53,470.51 1309.50,475.30 C1313.47,480.09 1320.27,490.64 1323.00,494.40 C1325.73,498.16 1328.14,501.07 1330.00,503.50 C1331.86,505.93 1334.25,509.20 1336.92,512.60 C1339.58,516.00 1346.27,524.63 1350.00,529.00 C1353.73,533.37 1360.65,542.04 1364.92,545.40 C1369.18,548.76 1377.13,551.93 1382.00,554.20 C1386.87,556.47 1396.56,560.76 1401.42,562.40 C1406.27,564.04 1412.91,565.65 1418.42,566.50 C1423.93,567.35 1437.24,567.91 1442.75,568.80 C1448.26,569.69 1454.56,572.61 1459.75,573.20 C1464.94,573.79 1478.42,573.87 1481.67,573.20 C1484.91,572.53 1474.03,568.87 1484.08,568.20 C1494.14,567.53 1546.71,568.59 1557.08,568.20 C1567.46,567.81 1559.33,565.69 1561.92,565.30 C1564.51,564.91 1574.23,564.65 1576.50,565.30 C1578.77,565.95 1575.03,569.55 1578.92,570.20 C1582.81,570.85 1601.78,570.69 1605.67,570.20 C1609.56,569.71 1604.84,567.66 1608.08,566.50 C1611.33,565.34 1624.49,562.75 1630.00,561.50 C1635.51,560.25 1642.94,558.27 1649.42,557.10 C1655.89,555.93 1671.13,553.29 1678.58,552.70 C1686.04,552.11 1700.14,552.19 1705.33,552.70 C1710.52,553.21 1712.31,555.21 1717.50,556.50 C1722.69,557.79 1737.12,561.07 1744.25,562.40 C1751.38,563.73 1763.21,565.18 1771.00,566.50 C1778.79,567.82 1794.23,571.53 1802.67,572.30 C1811.10,573.07 1828.74,572.85 1834.25,572.30 C1839.76,571.75 1837.46,569.13 1844.00,568.20 C1850.54,567.27 1878.09,565.69 1883.33,565.30" fill="none" stroke="#00f" stroke-width="10" stroke-linejoin="round" stroke-linecap="butt"/>
<g fill="#ff8000"><rect x="876.6" y="90.4" width="11.5" height="9.3"/><rect x="904.1" y="100.6" width="11.5" height="9.3"/><rect x="918.8" y="117.1" width="11.5" height="9.3"/><rect x="930.0" y="136.5" width="11.5" height="9.3"/><rect x="941.0" y="160.0" width="11.5" height="9.3"/><rect x="950.2" y="182.7" width="11.5" height="9.3"/><rect x="957.5" y="205.8" width="11.5" height="9.3"/><rect x="962.8" y="229.2" width="11.5" height="9.3"/><rect x="970.2" y="252.2" width="11.5" height="9.3"/><rect x="974.0" y="275.2" width="11.5" height="9.3"/><rect x="977.9" y="298.4" width="11.5" height="9.3"/><rect x="981.5" y="321.0" width="11.5" height="9.3"/><rect x="984.5" y="347.5" width="11.5" height="9.3"/><rect x="988.5" y="370.5" width="11.5" height="9.3"/><rect x="992.4" y="393.8" width="11.5" height="9.3"/><rect x="992.4" y="417.2" width="11.5" height="9.3"/><rect x="996.0" y="443.2" width="11.5" height="9.3"/><rect x="996.0" y="466.7" width="11.5" height="9.3"/><rect x="999.8" y="489.1" width="11.5" height="9.3"/><rect x="999.8" y="515.6" width="11.5" height="9.3"/><rect x="999.8" y="538.6" width="11.5" height="9.3"/><rect x="999.8" y="561.5" width="11.5" height="9.3"/><rect x="999.8" y="587.6" width="11.5" height="9.3"/><rect x="999.8" y="601.1" width="11.5" height="9.3"/><rect x="999.4" y="624.1" width="11.5" height="9.3"/><rect x="999.4" y="650.2" width="11.5" height="9.3"/><rect x="996.2" y="673.4" width="11.5" height="9.3"/><rect x="996.0" y="696.6" width="11.5" height="9.3"/><rect x="996.0" y="723.2" width="11.5" height="9.3"/><rect x="992.6" y="745.9" width="11.5" height="9.3"/><rect x="988.5" y="769.1" width="11.5" height="9.3"/><rect x="988.5" y="792.4" width="11.5" height="9.3"/><rect x="985.1" y="818.4" width="11.5" height="9.3"/><rect x="981.6" y="841.6" width="11.5" height="9.3"/><rect x="977.5" y="865.0" width="11.5" height="9.3"/><rect x="974.1" y="887.6" width="11.5" height="9.3"/><rect x="967.2" y="914.6" width="11.5" height="9.3"/><rect x="963.0" y="937.0" width="11.5" height="9.3"/><rect x="955.8" y="960.2" width="11.5" height="9.3"/><rect x="948.0" y="982.9" width="11.5" height="9.3"/><rect x="937.2" y="1006.1" width="11.5" height="9.3"/><rect x="925.8" y="1029.8" width="11.5" height="9.3"/><rect x="911.1" y="1049.2" width="11.5" height="9.3"/><rect x="889.1" y="1062.2" width="11.5" height="9.3"/><rect x="863.2" y="1062.2" width="11.5" height="9.3"/><rect x="845.8" y="1042.4" width="11.5" height="9.3"/><rect x="830.2" y="1022.8" width="11.5" height="9.3"/><rect x="819.6" y="999.5" width="11.5" height="9.3"/><rect x="812.0" y="978.4" width="11.5" height="9.3"/><rect x="805.2" y="954.9" width="11.5" height="9.3"/><rect x="797.6" y="930.4" width="11.5" height="9.3"/><rect x="793.5" y="906.8" width="11.5" height="9.3"/><rect x="786.8" y="884.4" width="11.5" height="9.3"/><rect x="783.1" y="861.6" width="11.5" height="9.3"/><rect x="779.1" y="838.1" width="11.5" height="9.3"/><rect x="775.6" y="813.8" width="11.5" height="9.3"/><rect x="771.8" y="788.9" width="11.5" height="9.3"/><rect x="771.5" y="765.4" width="11.5" height="9.3"/><rect x="767.9" y="742.1" width="11.5" height="9.3"/><rect x="764.9" y="716.4" width="11.5" height="9.3"/><rect x="764.9" y="693.2" width="11.5" height="9.3"/><rect x="764.9" y="670.2" width="11.5" height="9.3"/><rect x="760.9" y="645.4" width="11.5" height="9.3"/><rect x="760.9" y="620.9" width="11.5" height="9.3"/><rect x="760.8" y="597.4" width="11.5" height="9.3"/><rect x="760.8" y="575.0" width="11.5" height="9.3"/><rect x="760.8" y="547.9" width="11.5" height="9.3"/><rect x="760.8" y="525.5" width="11.5" height="9.3"/><rect x="760.8" y="502.1" width="11.5" height="9.3"/><rect x="764.5" y="476.0" width="11.5" height="9.3"/><rect x="764.5" y="453.2" width="11.5" height="9.3"/><rect x="768.2" y="429.7" width="11.5" height="9.3"/><rect x="768.2" y="403.5" width="11.5" height="9.3"/><rect x="772.0" y="380.8" width="11.5" height="9.3"/><rect x="775.8" y="357.4" width="11.5" height="9.3"/><rect x="775.8" y="334.1" width="11.5" height="9.3"/><rect x="781.1" y="308.2" width="11.5" height="9.3"/><rect x="786.9" y="285.0" width="11.5" height="9.3"/><rect x="790.5" y="262.0" width="11.5" height="9.3"/><rect x="794.1" y="239.0" width="11.5" height="9.3"/><rect x="801.5" y="212.7" width="11.5" height="9.3"/><rect x="808.6" y="189.4" width="11.5" height="9.3"/><rect x="816.0" y="166.4" width="11.5" height="9.3"/><rect x="827.0" y="143.5" width="11.5" height="9.3"/><rect x="837.9" y="123.7" width="11.5" height="9.3"/><rect x="856.5" y="100.6" width="11.5" height="9.3"/></g>
<text transform="translate(230.79,308.40) scale(1.1880,1)" font-size="60" font-weight="bold">0.15CdS<tspan font-weight="normal">@</tspan>TiO</text><text transform="translate(672.92,338.00) scale(1.3000,1)" font-size="60" font-weight="bold">2</text>
<text transform="translate(227.08,495.40) scale(1.1920,1)" font-size="60" font-weight="bold">0.10CdS<tspan font-weight="normal">@</tspan>TiO</text><text transform="translate(670.22,528.60) scale(1.3000,1)" font-size="60" font-weight="bold">2</text>
<text transform="translate(231.46,653.40) scale(1.1980,1)" font-size="60" font-weight="bold">0.05CdS<tspan font-weight="normal">@</tspan>TiO</text><text transform="translate(672.72,686.70) scale(1.3000,1)" font-size="60" font-weight="bold">2</text>
<text transform="translate(234.66,847.30) scale(1.1980,1)" font-size="60" font-weight="bold">0.01CdS<tspan font-weight="normal">@</tspan>TiO</text><text transform="translate(677.32,880.50) scale(1.3000,1)" font-size="60" font-weight="bold">2</text>
<text transform="translate(293.73,1005.0) scale(1.186,1)" font-size="60" font-weight="bold">CdS</text>
<text transform="translate(296.81,1120.6) scale(1.163,1)" font-size="60" font-weight="bold">TiO</text>
<text transform="translate(413.02,1153.9) scale(1.3,1)" font-size="60" font-weight="bold">2</text>
<rect x="1610" y="48.5" width="591" height="406" fill="#fff"/>
<line x1="1609.8" y1="45.5" x2="1609.8" y2="458.8" stroke="#000" stroke-width="7"/>
<line x1="2201" y1="45.5" x2="2201" y2="458.8" stroke="#000" stroke-width="6.8"/>
<line x1="1606.7" y1="48.5" x2="2204.3" y2="48.5" stroke="#000" stroke-width="5.9"/>
<line x1="1606.7" y1="456" x2="2204.3" y2="456" stroke="#000" stroke-width="5.6"/>
<line x1="1708.9" y1="446" x2="1708.9" y2="455" stroke="#000" stroke-width="6"/>
<line x1="1808.2" y1="446" x2="1808.2" y2="455" stroke="#000" stroke-width="6"/>
<line x1="1907.5" y1="446" x2="1907.5" y2="455" stroke="#000" stroke-width="6"/>
<line x1="2006.8" y1="446" x2="2006.8" y2="455" stroke="#000" stroke-width="6"/>
<line x1="2106.1" y1="446" x2="2106.1" y2="455" stroke="#000" stroke-width="6"/>
<text text-anchor="middle" transform="translate(1608.0,495) scale(1.11,1)" font-size="44" font-weight="bold">24</text>
<text text-anchor="middle" transform="translate(1707.0,495) scale(1.11,1)" font-size="44" font-weight="bold">25</text>
<text text-anchor="middle" transform="translate(1805.9,495) scale(1.11,1)" font-size="44" font-weight="bold">26</text>
<text text-anchor="middle" transform="translate(1904.8,495) scale(1.11,1)" font-size="44" font-weight="bold">27</text>
<text text-anchor="middle" transform="translate(2003.8,495) scale(1.11,1)" font-size="44" font-weight="bold">28</text>
<text text-anchor="middle" transform="translate(2102.8,495) scale(1.11,1)" font-size="44" font-weight="bold">29</text>
<text text-anchor="middle" transform="translate(2201.7,495) scale(1.11,1)" font-size="44" font-weight="bold">30</text>
<text transform="translate(1769.38,534.4) scale(1.05,1)" font-size="48" font-weight="bold">2<tspan font-weight="normal">θ(</tspan>d<tspan dx="6">egrees</tspan><tspan font-weight="normal">)</tspan></text>
<text transform="translate(1584.1,358.1) scale(1.24,1) rotate(-90)" font-size="44.6" font-weight="bold">Intensity</text>
<path transform="scale(1.2,1)" d="M1338.75,441.60 C1341.66,441.43 1355.49,441.18 1360.58,440.30 C1365.67,439.42 1371.84,436.40 1376.92,435.00 C1381.99,433.60 1392.87,431.36 1398.67,429.80 C1404.47,428.24 1414.61,425.22 1420.42,423.30 C1426.23,421.38 1436.44,417.32 1442.25,415.40 C1448.06,413.48 1458.20,410.63 1464.00,408.90 C1469.80,407.17 1479.94,403.97 1485.75,402.40 C1491.56,400.83 1501.77,398.50 1507.58,397.10 C1513.39,395.70 1523.53,392.94 1529.33,391.90 C1535.13,390.86 1543.88,389.42 1551.08,389.30 C1558.28,389.18 1577.53,390.73 1583.33,391.00 C1589.13,391.27 1591.58,390.90 1594.58,391.30 C1597.58,391.70 1602.83,393.40 1605.83,394.00 C1608.83,394.60 1614.08,395.27 1617.08,395.80 C1620.08,396.33 1625.33,397.25 1628.33,398.00 C1631.33,398.75 1636.58,400.49 1639.58,401.40 C1642.58,402.31 1647.83,403.99 1650.83,404.80 C1653.83,405.61 1659.08,406.87 1662.08,407.50 C1665.08,408.13 1670.33,408.74 1673.33,409.50 C1676.33,410.26 1681.58,412.31 1684.58,413.20 C1687.58,414.09 1692.83,415.44 1695.83,416.20 C1698.83,416.96 1704.08,418.18 1707.08,418.90 C1710.08,419.62 1715.33,420.88 1718.33,421.60 C1721.33,422.32 1726.58,423.66 1729.58,424.30 C1732.58,424.94 1737.83,425.85 1740.83,426.40 C1743.83,426.95 1749.08,427.85 1752.08,428.40 C1755.08,428.95 1760.33,430.02 1763.33,430.50 C1766.33,430.98 1771.58,431.47 1774.58,432.00 C1777.58,432.53 1782.83,433.99 1785.83,434.50 C1788.83,435.01 1794.08,435.49 1797.08,435.80 C1800.08,436.11 1805.33,436.48 1808.33,436.80 C1811.33,437.12 1815.81,437.97 1819.58,438.20 C1823.36,438.43 1834.39,438.46 1836.67,438.50" fill="none" stroke="#f00" stroke-width="8.6" stroke-linejoin="round" stroke-linecap="butt"/>
<path transform="scale(1.2,1)" d="M1338.75,369.70 C1341.66,369.18 1355.49,366.93 1360.58,365.80 C1365.67,364.67 1371.84,362.77 1376.92,361.20 C1381.99,359.63 1392.87,356.00 1398.67,354.00 C1404.47,352.00 1414.61,348.47 1420.42,346.20 C1426.23,343.93 1436.44,339.27 1442.25,337.00 C1448.06,334.73 1458.20,331.28 1464.00,329.20 C1469.80,327.12 1479.94,323.40 1485.75,321.40 C1491.56,319.40 1501.77,315.87 1507.58,314.20 C1513.39,312.53 1523.53,310.03 1529.33,308.90 C1535.13,307.77 1543.88,305.89 1551.08,305.70 C1558.28,305.51 1577.53,307.07 1583.33,307.50 C1589.13,307.93 1591.58,308.35 1594.58,308.90 C1597.58,309.45 1602.83,310.79 1605.83,311.60 C1608.83,312.41 1614.08,314.01 1617.08,315.00 C1620.08,315.99 1625.33,318.01 1628.33,319.00 C1631.33,319.99 1636.58,321.49 1639.58,322.40 C1642.58,323.31 1647.83,324.63 1650.83,325.80 C1653.83,326.97 1659.08,329.95 1662.08,331.20 C1665.08,332.45 1670.33,334.03 1673.33,335.20 C1676.33,336.37 1681.58,338.64 1684.58,340.00 C1687.58,341.36 1692.83,344.15 1695.83,345.40 C1698.83,346.65 1704.08,348.32 1707.08,349.40 C1710.08,350.48 1715.33,352.42 1718.33,353.50 C1721.33,354.58 1726.58,356.42 1729.58,357.50 C1732.58,358.58 1737.83,360.61 1740.83,361.60 C1743.83,362.59 1749.08,364.10 1752.08,364.90 C1755.08,365.70 1760.33,366.88 1763.33,367.60 C1766.33,368.32 1771.58,369.58 1774.58,370.30 C1777.58,371.02 1782.83,372.19 1785.83,373.00 C1788.83,373.81 1794.08,375.59 1797.08,376.40 C1800.08,377.21 1805.33,378.38 1808.33,379.10 C1811.33,379.82 1815.81,381.25 1819.58,381.80 C1823.36,382.35 1834.39,383.01 1836.67,383.20" fill="none" stroke="#f0f" stroke-width="8.6" stroke-linejoin="round" stroke-linecap="butt"/>
<path transform="scale(1.2,1)" d="M1338.75,313.10 C1340.93,312.07 1349.99,307.81 1355.08,305.40 C1360.17,302.99 1371.11,297.79 1376.92,295.00 C1382.73,292.21 1392.87,287.11 1398.67,284.50 C1404.47,281.89 1414.61,277.84 1420.42,275.40 C1426.23,272.96 1436.44,268.47 1442.25,266.20 C1448.06,263.93 1458.20,260.48 1464.00,258.40 C1469.80,256.32 1479.94,252.52 1485.75,250.60 C1491.56,248.68 1501.77,245.40 1507.58,244.00 C1513.39,242.60 1523.53,240.62 1529.33,240.10 C1535.13,239.58 1546.01,240.01 1551.08,240.10 C1556.16,240.19 1563.12,240.36 1567.42,240.80 C1571.72,241.24 1579.71,242.68 1583.33,243.40 C1586.96,244.12 1591.58,245.39 1594.58,246.20 C1597.58,247.01 1602.83,248.61 1605.83,249.50 C1608.83,250.39 1614.08,251.90 1617.08,252.90 C1620.08,253.90 1625.33,255.73 1628.33,257.00 C1631.33,258.27 1636.58,261.05 1639.58,262.40 C1642.58,263.75 1647.83,265.85 1650.83,267.10 C1653.83,268.35 1659.08,270.45 1662.08,271.80 C1665.08,273.15 1670.33,275.85 1673.33,277.20 C1676.33,278.55 1681.58,280.39 1684.58,281.90 C1687.58,283.41 1692.83,287.06 1695.83,288.50 C1698.83,289.94 1704.08,291.63 1707.08,292.70 C1710.08,293.77 1715.33,295.50 1718.33,296.50 C1721.33,297.50 1726.58,299.27 1729.58,300.20 C1732.58,301.13 1737.83,302.61 1740.83,303.50 C1743.83,304.39 1749.08,306.03 1752.08,306.90 C1755.08,307.77 1760.33,309.09 1763.33,310.00 C1766.33,310.91 1771.58,312.85 1774.58,313.70 C1777.58,314.55 1782.83,315.75 1785.83,316.40 C1788.83,317.05 1794.08,318.05 1797.08,318.60 C1800.08,319.15 1805.33,319.91 1808.33,320.50 C1811.33,321.09 1815.81,322.27 1819.58,323.00 C1823.36,323.73 1834.39,325.60 1836.67,326.00" fill="none" stroke="#0f0" stroke-width="8.6" stroke-linejoin="round" stroke-linecap="butt"/>
<path transform="scale(1.2,1)" d="M1338.75,249.30 C1340.93,248.42 1349.99,245.14 1355.08,242.70 C1360.17,240.26 1371.11,233.96 1376.92,231.00 C1382.73,228.04 1392.87,223.29 1398.67,220.50 C1404.47,217.71 1414.61,212.89 1420.42,210.10 C1426.23,207.31 1436.44,202.57 1442.25,199.60 C1448.06,196.63 1458.20,190.61 1464.00,187.80 C1469.80,184.99 1481.39,180.55 1485.75,178.50 C1490.11,176.45 1493.03,174.09 1496.67,172.40 C1500.30,170.71 1508.64,167.37 1513.00,165.80 C1517.36,164.23 1523.81,161.37 1529.33,160.60 C1534.86,159.83 1547.88,159.65 1554.42,160.00 C1560.95,160.35 1572.98,162.31 1578.33,163.20 C1583.69,164.09 1590.92,165.87 1594.58,166.70 C1598.25,167.53 1602.83,168.68 1605.83,169.40 C1608.83,170.12 1614.08,171.21 1617.08,172.10 C1620.08,172.99 1625.33,174.94 1628.33,176.10 C1631.33,177.26 1636.58,179.55 1639.58,180.80 C1642.58,182.05 1647.83,184.06 1650.83,185.50 C1653.83,186.94 1659.08,190.07 1662.08,191.60 C1665.08,193.13 1670.33,195.48 1673.33,197.00 C1676.33,198.52 1681.58,201.40 1684.58,203.00 C1687.58,204.60 1692.83,207.39 1695.83,209.00 C1698.83,210.61 1704.08,213.66 1707.08,215.10 C1710.08,216.54 1715.33,218.53 1718.33,219.80 C1721.33,221.07 1726.58,223.43 1729.58,224.60 C1732.58,225.77 1737.83,227.52 1740.83,228.60 C1743.83,229.68 1749.08,231.62 1752.08,232.70 C1755.08,233.78 1760.33,235.71 1763.33,236.70 C1766.33,237.69 1771.58,239.19 1774.58,240.10 C1777.58,241.01 1782.83,242.69 1785.83,243.50 C1788.83,244.31 1794.08,245.48 1797.08,246.20 C1800.08,246.92 1805.33,248.18 1808.33,248.90 C1811.33,249.62 1815.81,250.97 1819.58,251.60 C1823.36,252.23 1834.39,253.33 1836.67,253.60" fill="none" stroke="#0ff" stroke-width="8.6" stroke-linejoin="round" stroke-linecap="butt"/>
<path transform="scale(1.2,1)" d="M1338.75,178.30 C1342.38,176.81 1358.59,170.67 1366.00,167.10 C1373.41,163.53 1387.08,155.33 1394.33,151.50 C1401.59,147.67 1414.03,142.07 1420.42,138.40 C1426.81,134.73 1436.44,128.01 1442.25,124.00 C1448.06,119.99 1458.20,112.13 1464.00,108.30 C1469.80,104.47 1479.94,98.86 1485.75,95.30 C1491.56,91.74 1501.77,84.39 1507.58,81.60 C1513.39,78.81 1524.26,75.97 1529.33,74.40 C1534.41,72.83 1541.31,70.59 1545.67,69.80 C1550.02,69.01 1557.64,68.54 1562.00,68.50 C1566.36,68.46 1573.99,69.29 1578.33,69.50 C1582.68,69.71 1590.92,69.66 1594.58,70.10 C1598.25,70.54 1602.83,72.08 1605.83,72.80 C1608.83,73.52 1614.08,74.50 1617.08,75.50 C1620.08,76.50 1625.33,78.86 1628.33,80.30 C1631.33,81.74 1636.58,84.69 1639.58,86.30 C1642.58,87.91 1647.83,90.60 1650.83,92.40 C1653.83,94.20 1659.08,97.91 1662.08,99.80 C1665.08,101.69 1670.33,104.80 1673.33,106.60 C1676.33,108.40 1681.58,111.41 1684.58,113.30 C1687.58,115.19 1692.83,118.72 1695.83,120.80 C1698.83,122.88 1704.08,127.02 1707.08,128.90 C1710.08,130.78 1715.33,133.46 1718.33,134.90 C1721.33,136.34 1726.58,138.34 1729.58,139.70 C1732.58,141.06 1737.83,143.66 1740.83,145.10 C1743.83,146.54 1749.08,149.06 1752.08,150.50 C1755.08,151.94 1760.33,154.55 1763.33,155.90 C1766.33,157.25 1771.58,159.44 1774.58,160.60 C1777.58,161.76 1782.83,163.61 1785.83,164.60 C1788.83,165.59 1794.08,167.00 1797.08,168.00 C1800.08,169.00 1805.33,171.29 1808.33,172.10 C1811.33,172.91 1815.81,173.38 1819.58,174.10 C1823.36,174.82 1834.39,177.05 1836.67,177.50" fill="none" stroke="#00f" stroke-width="8.6" stroke-linejoin="round" stroke-linecap="butt"/>
<line x1="1871" y1="55" x2="1892.7" y2="430" stroke="#ff8000" stroke-width="6"/>
</g></svg>
</body></html>
